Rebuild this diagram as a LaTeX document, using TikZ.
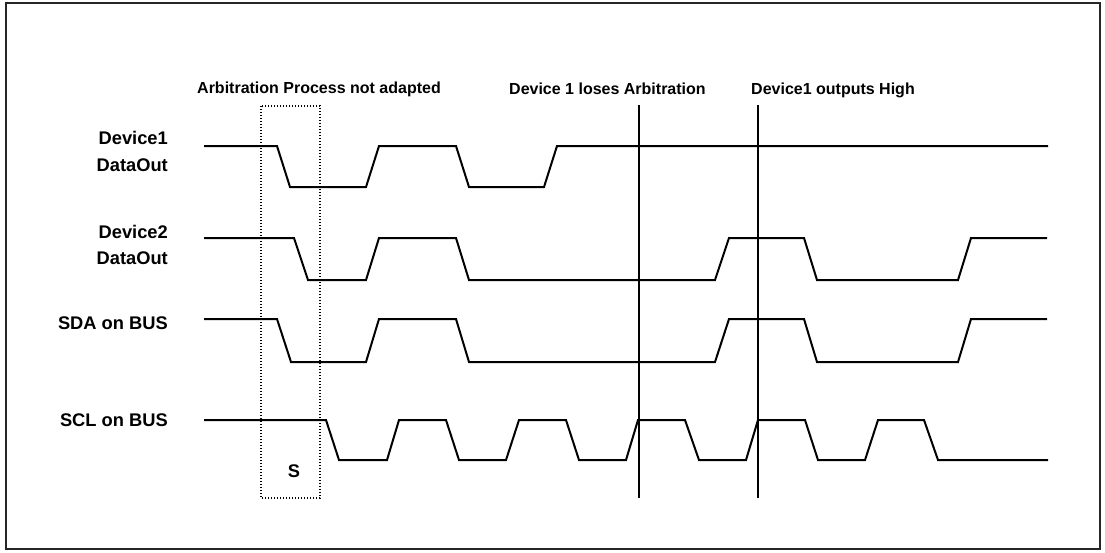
\documentclass[tikz,border=0pt]{standalone}
\usepackage{fontspec}
\setmainfont{Liberation Sans}
\begin{document}
\begin{tikzpicture}[x=1pt,y=-1pt,
  wave/.style={line width=2pt, line join=miter, black},
  marker/.style={line width=1.3pt, black},
  sideLabel/.style={anchor=east, inner sep=0pt, font=\fontsize{18.3}{22}\selectfont\bfseries},
  topLabel/.style={anchor=west, inner sep=0pt, font=\fontsize{16}{19}\selectfont\bfseries}]
\useasboundingbox (0,0) rectangle (1105,552);
\draw[line width=1.5pt, black!85] (6,3) rectangle (1100,549);
% labels
\node[topLabel] (t1) at (197,89) {Arbitration Process not adapted};
\node[topLabel] (t2) at (509,89) {Device 1 loses Arbitration};
\node[topLabel] (t3) at (751,90) {Device1 outputs High};
\node[sideLabel] (l1a) at (168,138) {Device1};
\node[sideLabel] (l1b) at (168,165) {DataOut};
\node[sideLabel] (l2a) at (168,232) {Device2};
\node[sideLabel] (l2b) at (168,258) {DataOut};
\node[sideLabel] (l3) at (168,323) {SDA on BUS};
\node[sideLabel] (l4) at (168,420) {SCL on BUS};
\node[inner sep=0pt, font=\fontsize{18.3}{22}\selectfont\bfseries] (s) at (294,471) {S};
% dotted start box
\draw[black, line width=1.3pt, dash pattern=on 1.3pt off 1.7pt] (261,106) rectangle (320,498);
% marker lines
\coordinate (m1t) at (639,105); \coordinate (m1b) at (639,498);
\coordinate (m2t) at (758,105); \coordinate (m2b) at (758,498);
\draw[marker] (m1t) -- (m1b);
\draw[marker] (m2t) -- (m2b);
% Device1 DataOut
\draw[wave] (204,146) -- (277,146) -- (290,187) -- (366,187) -- (379,146) -- (456,146) -- (469,187) -- (544,187) -- (557,146) -- (1048,146);
% Device2 DataOut
\draw[wave] (204,238) -- (294,238) -- (308,280) -- (366,280) -- (379,238) -- (456,238) -- (469,280) -- (715,280) -- (729,238) -- (804,238) -- (817,280) -- (958,280) -- (971,238) -- (1047,238);
% SDA
\draw[wave] (204,319) -- (277,319) -- (291,362) -- (366,362) -- (379,319) -- (456,319) -- (469,362) -- (715,362) -- (729,319) -- (804,319) -- (817,362) -- (958,362) -- (971,319) -- (1047,319);
% SCL
\draw[wave] (204,420) -- (326,420) -- (339,460) -- (387,460) -- (399,420) -- (446,420) -- (459,460) -- (506,460) -- (519,420) -- (566,420) -- (579,460) -- (626,460) -- (638,420) -- (685,420) -- (699,460) -- (746,460) -- (758,420) -- (805,420) -- (818,460) -- (865,460) -- (878,420) -- (924,420) -- (938,460) -- (1048,460);
\end{tikzpicture}
\end{document}
